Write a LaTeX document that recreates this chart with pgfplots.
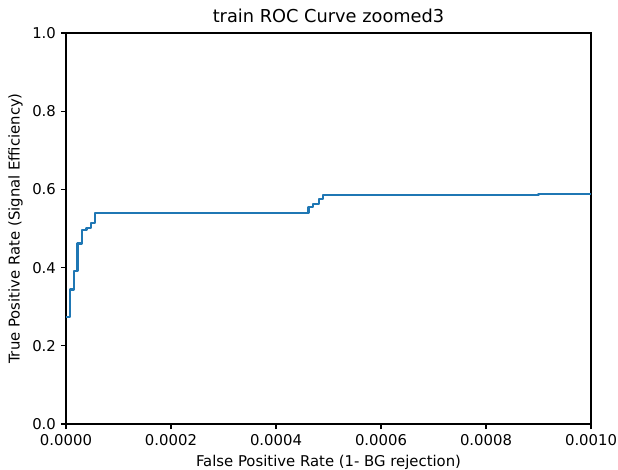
\documentclass[border=0pt]{standalone}
\usepackage{fontspec}
\setmainfont{DejaVu Sans}
\usepackage{pgfplots}
\pgfplotsset{compat=1.18}
\definecolor{mplblue}{HTML}{1F77B4}
\begin{document}
\begin{tikzpicture}
\begin{axis}[
  width=378pt, height=281.5pt, scale only axis,
  xmin=0, xmax=0.001, ymin=0, ymax=1,
  xtick={0,0.0002,0.0004,0.0006,0.0008,0.001},
  ytick={0,0.2,0.4,0.6,0.8,1.0},
  scaled x ticks=false,
  xticklabel style={/pgf/number format/.cd, fixed, fixed zerofill, precision=4},
  yticklabel style={/pgf/number format/.cd, fixed, fixed zerofill, precision=1},
  /pgf/number format/assume math mode=true,
  tick align=outside, tick pos=left, major tick length=3.7pt,
  ticklabel style={font=\fontsize{10.7}{12.8}\selectfont},
  label style={font=\fontsize{10.7}{12.8}\selectfont},
  title style={font=\fontsize{12.8}{15}\selectfont, yshift=-2pt},
  title={train ROC Curve zoomed3},
  xlabel={False Positive Rate (1- BG rejection)},
  ylabel={True Positive Rate (Signal Efficiency)},
  axis line style={line width=0.85pt},
  every tick/.style={line width=0.85pt, black},
]
\addplot[mplblue, line width=1.6pt, line join=round] coordinates {
(0,0.274) (7.6e-6,0.274) (7.6e-6,0.344) (1.5e-5,0.344) (1.5e-5,0.391)
(2.2e-5,0.391) (2.2e-5,0.462) (3.1e-5,0.462) (3.1e-5,0.496) (3.9e-5,0.496)
(3.9e-5,0.502) (4.7e-5,0.502) (4.7e-5,0.515) (5.5e-5,0.515) (5.5e-5,0.539)
(4.62e-4,0.539) (4.62e-4,0.556) (4.70e-4,0.556) (4.70e-4,0.562) (4.82e-4,0.562)
(4.82e-4,0.576) (4.9e-4,0.576) (4.9e-4,0.585) (9.0e-4,0.585) (9.0e-4,0.589)
(0.001,0.589)
};
\end{axis}
\pgfresetboundingbox
\path (current axis.south west) ++(-47.5pt,-32.4pt) coordinate (bl);
\path (current axis.north east) ++(19.4pt,23.8pt) coordinate (tr);
\useasboundingbox (bl) rectangle (tr);
\end{tikzpicture}
\end{document}
